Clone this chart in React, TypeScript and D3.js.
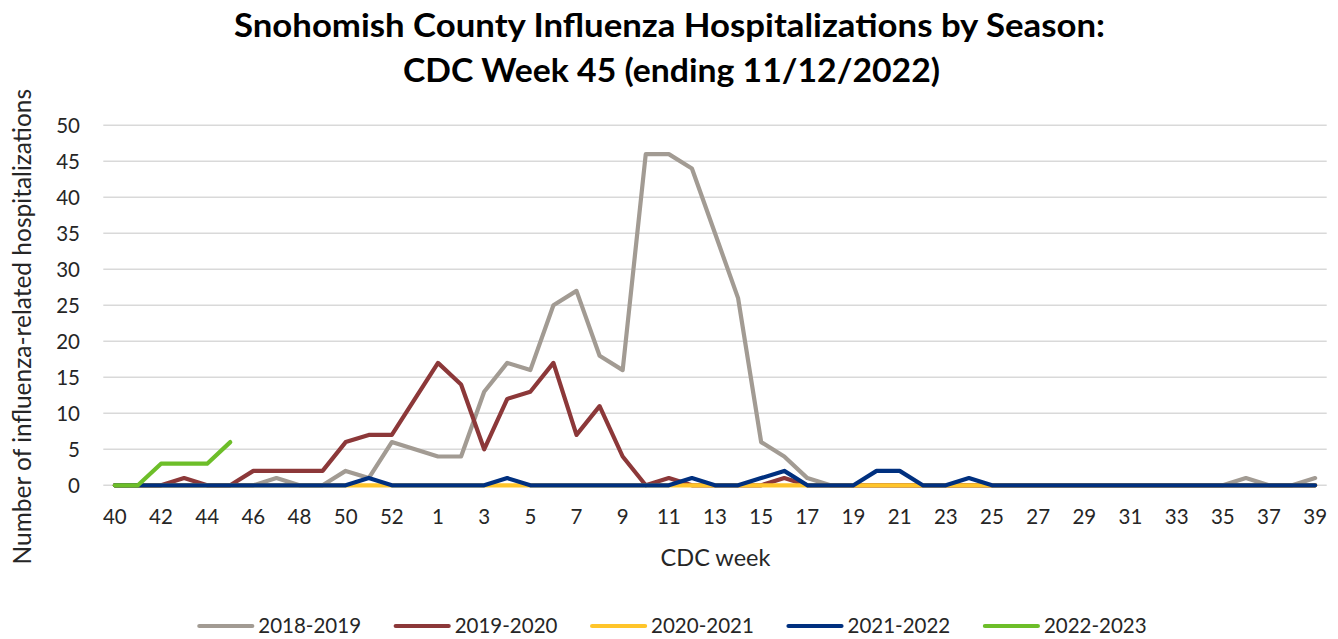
import React from 'react';
import * as d3 from 'd3';

const WIDTH = 1338;
const HEIGHT = 639;
const FONT = 'Lato, "Open Sans", sans-serif';

// CDC weeks in season order (week 53 only exists in some seasons)
const WEEKS = [
  40, 41, 42, 43, 44, 45, 46, 47, 48, 49, 50, 51, 52, 53,
  1, 2, 3, 4, 5, 6, 7, 8, 9, 10, 11, 12, 13, 14, 15, 16, 17, 18, 19, 20,
  21, 22, 23, 24, 25, 26, 27, 28, 29, 30, 31, 32, 33, 34, 35, 36, 37, 38, 39,
];

const SEASONS = ['2018-2019', '2019-2020', '2020-2021', '2021-2022', '2022-2023'];
const COLORS = ['#A29B93', '#8C3839', '#FFC52A', '#00307F', '#6DBE29'];

type V = number | null;

const S2018: V[] = [
  0, 0, 0, 0, 0, 0, 0, 1, 0, 0, 2, 1, 6, null,
  4, 4, 13, 17, 16, 25, 27, 18, 16, 46, 46, 44, 35, 26, 6, 4, 1, 0, 0, 0,
  0, 0, 0, 0, 0, 0, 0, 0, 0, 0, 0, 0, 0, 0, 0, 1, 0, 0, 1,
];
const S2019: V[] = [
  0, 0, 0, 1, 0, 0, 2, 2, 2, 2, 6, 7, 7, null,
  17, 14, 5, 12, 13, 17, 7, 11, 4, 0, 1, 0, 0, 0, 0, 1, 0, 0, 0, 0,
  0, 0, 0, 0, 0, 0, 0, 0, 0, 0, 0, 0, 0, 0, 0, 0, 0, 0, 0,
];
const S2020: V[] = [
  0, 0, 0, 0, 0, 0, 0, 0, 0, 0, 0, 0, 0, 0,
  0, 0, 0, 0, 0, 0, 0, 0, 0, 0, 0, 0, 0, 0, 0, 0, 0, 0, 0, 0,
  0, 0, 0, 0, 0, 0, 0, 0, 0, 0, 0, 0, 0, 0, 0, 0, 0, 0, 0,
];
const S2021: V[] = [
  0, 0, 0, 0, 0, 0, 0, 0, 0, 0, 0, 1, 0, null,
  0, 0, 0, 1, 0, 0, 0, 0, 0, 0, 0, 1, 0, 0, 1, 2, 0, 0, 0, 2,
  2, 0, 0, 1, 0, 0, 0, 0, 0, 0, 0, 0, 0, 0, 0, 0, 0, 0, 0,
];
const S2022: V[] = [0, 0, 3, 3, 3, 6];

const SERIES = [S2018, S2019, S2020, S2021, S2022];
const Y_TICKS = [0, 5, 10, 15, 20, 25, 30, 35, 40, 45, 50];

const PLOT = { left: 103.3, right: 1326.7, top: 125.3, bottom: 485.3 };

export default function App() {
  const x = d3.scaleBand<number>()
    .domain(WEEKS.map((_, i) => i))
    .range([PLOT.left, PLOT.right]);
  const cx = (i: number) => (x(i) as number) + x.bandwidth() / 2;
  const y = d3.scaleLinear().domain([0, 50]).range([PLOT.bottom, PLOT.top]);

  // Excel connects across missing week 53, so drop nulls rather than break
  const line = d3.line<[number, number]>()
    .x(d => cx(d[0]))
    .y(d => y(d[1]));

  const paths = SERIES.map(vals => {
    const pts: [number, number][] = [];
    vals.forEach((v, i) => { if (v !== null && v !== undefined) pts.push([i, v]); });
    return line(pts) || '';
  });

  return (
    <svg
      width={WIDTH}
      height={HEIGHT}
      style={{ position: 'absolute', left: 0, top: 0, background: '#fff' }}
      fontFamily={FONT}
    >
      <rect width={WIDTH} height={HEIGHT} fill="#fff" />

      <text x={669.5} y={37} textAnchor="middle" fontSize={32} fontWeight={700} fill="#000"
        textLength={871} lengthAdjust="spacingAndGlyphs">
        Snohomish County Influenza Hospitalizations by Season:
      </text>
      <text x={671.5} y={82} textAnchor="middle" fontSize={32} fontWeight={700} fill="#000"
        textLength={537} lengthAdjust="spacingAndGlyphs">
        CDC Week 45 (ending 11/12/2022)
      </text>

      {/* gridlines + y ticks */}
      {Y_TICKS.map(t => (
        <g key={t}>
          <line x1={PLOT.left} x2={PLOT.right} y1={y(t)} y2={y(t)} stroke="#D9D9D9" strokeWidth={1.6} />
          <text x={80} y={y(t)} dy="0.36em" textAnchor="end" fontSize={20.5} fill="#262626">{t}</text>
        </g>
      ))}

      {/* x ticks, every other week */}
      {WEEKS.map((w, i) => i % 2 === 0 ? (
        <text key={i} x={cx(i)} y={524} textAnchor="middle" fontSize={20.5} fill="#262626">{w}</text>
      ) : null)}

      <text x={715.5} y={565.5} textAnchor="middle" fontSize={23.5} fill="#262626">CDC week</text>
      <text
        transform="translate(30.5,326.7) rotate(-90)"
        textAnchor="middle"
        fontSize={24.5}
        fill="#262626"
      >
        Number of influenza-related hospitalizations
      </text>

      {/* series */}
      {paths.map((d, i) => (
        <path key={i} d={d} fill="none" stroke={COLORS[i]} strokeWidth={4.2}
          strokeLinejoin="round" strokeLinecap="round" />
      ))}

      {/* legend */}
      {SEASONS.map((s, i) => {
        const lx = 199.3 + i * 196.4;
        return (
          <g key={s}>
            <line x1={lx} x2={lx + 53} y1={626} y2={626} stroke={COLORS[i]} strokeWidth={4.2} strokeLinecap="round" />
            <text x={lx + 59} y={633} fontSize={20.5} fill="#262626">{s}</text>
          </g>
        );
      })}
    </svg>
  );
}
